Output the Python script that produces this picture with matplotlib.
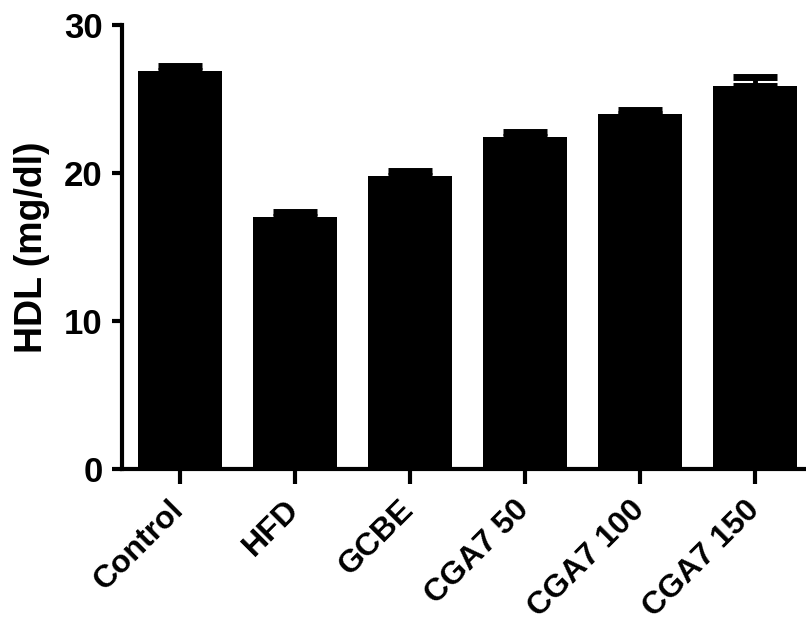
import matplotlib
matplotlib.use("Agg")
import matplotlib.pyplot as plt

groups = ["Control", "HFD", "GCBE", "CGA7 50", "CGA7 100", "CGA7 150"]
hdl_mean = [26.9, 17.0, 19.8, 22.4, 24.0, 25.9]
hdl_sem = [0.35, 0.35, 0.35, 0.4, 0.25, 0.6]
y_ticks = [0, 10, 20, 30]

plt.rcParams["font.family"] = ["Liberation Sans", "DejaVu Sans"]
plt.rcParams["font.weight"] = "bold"

fig = plt.figure(figsize=(8.06, 6.31), dpi=100)
ax = fig.add_axes([0.1514, 0.2567, 0.8486, 0.7037])

x = list(range(len(groups)))
ax.bar(x, hdl_mean, width=0.73, color="black", zorder=2)
ax.errorbar(x, hdl_mean, yerr=[[0] * len(x), hdl_sem], fmt="none",
            ecolor="black", elinewidth=3.5, capsize=16, capthick=5, zorder=3)

ax.set_xlim(-0.5, 5.44)
ax.set_ylim(0, 30)
ax.set_yticks(y_ticks)
ax.set_xticks(x)
ax.set_xticklabels(groups, rotation=45, ha="right", va="center",
                   rotation_mode="anchor", fontsize=23, fontweight="bold")
ax.tick_params(axis="y", labelsize=25, width=3, length=7, pad=7)
ax.tick_params(axis="x", width=3, length=11, pad=15)
for lbl in ax.get_yticklabels():
    lbl.set_fontweight("bold")

ax.set_ylabel("HDL (mg/dl)", fontsize=27, fontweight="bold", labelpad=10)

for side in ("top", "right"):
    ax.spines[side].set_visible(False)
for side in ("left", "bottom"):
    ax.spines[side].set_linewidth(3)

fig.savefig("out.png", dpi=100)
